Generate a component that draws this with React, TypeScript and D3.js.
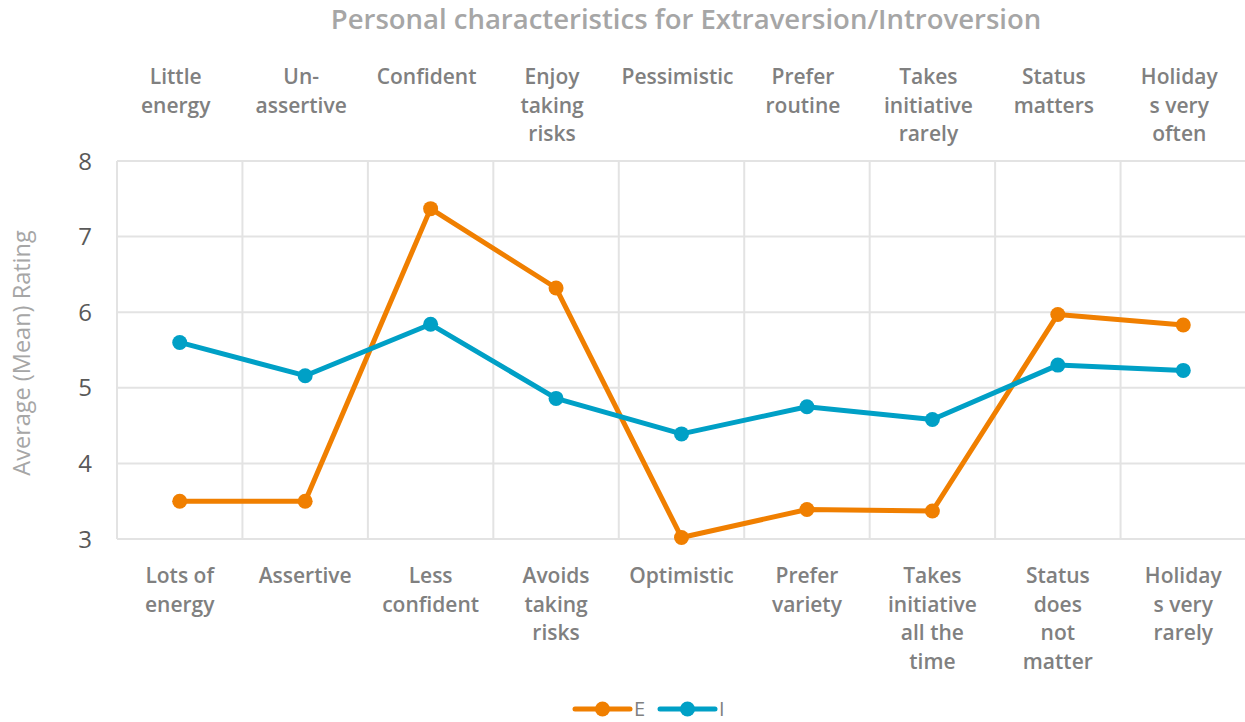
import React from "react";
import * as d3 from "d3";

const topLabels = [
  "Little|energy",
  "Un-|assertive",
  "Confident",
  "Enjoy|taking|risks",
  "Pessimistic",
  "Prefer|routine",
  "Takes|initiative|rarely",
  "Status|matters",
  "Holiday|s very|often",
];
const bottomLabels = [
  "Lots of|energy",
  "Assertive",
  "Less|confident",
  "Avoids|taking|risks",
  "Optimistic",
  "Prefer|variety",
  "Takes|initiative|all the|time",
  "Status|does|not|matter",
  "Holiday|s very|rarely",
];
const seriesE = [3.5, 3.5, 7.37, 6.32, 3.02, 3.39, 3.37, 5.97, 5.83];
const seriesI = [5.6, 5.16, 5.84, 4.86, 4.39, 4.75, 4.58, 5.3, 5.23];
const yTicks = [3, 4, 5, 6, 7, 8];
const seriesNames = ["E", "I"];
const colors = ["#F07F00", "#00A0C6"];

const W = 1245;
const H = 722;
const left = 117;
const right = 1246;
const top = 161;
const bottom = 539;

export default function App() {
  const idx = d3.range(topLabels.length);
  const x = d3.scaleBand<number>().domain(idx).range([left, right]).padding(0);
  const y = d3.scaleLinear().domain([3, 8]).range([bottom, top]);
  const cx = (i: number) => (x(i) as number) + x.bandwidth() / 2;
  const line = d3
    .line<number>()
    .x((_, i) => cx(i))
    .y((d) => y(d));
  const series = [seriesE, seriesI];
  const font = "'Open Sans', sans-serif";

  return (
    <svg
      width={W}
      height={H}
      style={{ position: "absolute", left: 0, top: 0, background: "#fff" }}
    >
      <defs>
        <clipPath id="topclip">
          <rect x={0} y={0} width={W} height={146} />
        </clipPath>
      </defs>
      <text
        x={686}
        y={29}
        textAnchor="middle"
        fontFamily={font}
        fontWeight={600}
        fontSize={27.5}
        fill="#a6a6a6"
      >
        Personal characteristics for Extraversion/Introversion
      </text>
      {/* gridlines */}
      {yTicks.map((t) => (
        <line
          key={"h" + t}
          x1={left}
          x2={right}
          y1={y(t)}
          y2={y(t)}
          stroke="#e3e3e3"
          strokeWidth={2}
        />
      ))}
      {d3.range(topLabels.length + 1).map((i) => {
        const xx = i < topLabels.length ? (x(i) as number) : right;
        return (
          <line
            key={"v" + i}
            x1={xx}
            x2={xx}
            y1={top}
            y2={bottom}
            stroke="#e3e3e3"
            strokeWidth={2}
          />
        );
      })}
      {/* y tick labels */}
      {yTicks.map((t) => (
        <text
          key={"t" + t}
          x={85}
          y={y(t) + 8.5}
          textAnchor="middle"
          fontFamily={font}
          fontSize={24}
          fill="#595959"
        >
          {t}
        </text>
      ))}
      <text
        transform={`translate(30,353) rotate(-90)`}
        textAnchor="middle"
        fontFamily={font}
        fontSize={23.5}
        fill="#a6a6a6"
      >
        Average (Mean) Rating
      </text>
      {/* top labels */}
      <g clipPath="url(#topclip)">
        {topLabels.map((lab, i) =>
          lab.split("|").map((ln, j) => (
            <text
              key={"tl" + i + "_" + j}
              x={cx(i) - 4}
              y={84 + j * 28.7}
              textAnchor="middle"
              fontFamily={font}
              fontWeight={600}
              fontSize={21}
              fill="#808080"
            >
              {ln}
            </text>
          ))
        )}
      </g>
      {/* bottom labels */}
      {bottomLabels.map((lab, i) =>
        lab.split("|").map((ln, j) => (
          <text
            key={"bl" + i + "_" + j}
            x={cx(i)}
            y={583 + j * 28.7}
            textAnchor="middle"
            fontFamily={font}
            fontWeight={600}
            fontSize={21}
            fill="#808080"
          >
            {ln}
          </text>
        ))
      )}
      {/* series */}
      {series.map((s, k) => (
        <g key={"s" + k}>
          <path
            d={line(s) || ""}
            fill="none"
            stroke={colors[k]}
            strokeWidth={5}
            strokeLinejoin="round"
          />
          {s.map((v, i) => (
            <circle key={i} cx={cx(i)} cy={y(v)} r={7.5} fill={colors[k]} />
          ))}
        </g>
      ))}
      {/* legend */}
      {seriesNames.map((n, k) => {
        const x0 = 575 + k * 85;
        return (
          <g key={"lg" + k}>
            <line
              x1={x0}
              x2={x0 + 55}
              y1={709}
              y2={709}
              stroke={colors[k]}
              strokeWidth={5}
              strokeLinecap="round"
            />
            <circle cx={x0 + 27.5} cy={709} r={7.5} fill={colors[k]} />
            <text
              x={x0 + 59}
              y={716}
              fontFamily={font}
              fontSize={20}
              fill="#808080"
            >
              {n}
            </text>
          </g>
        );
      })}
    </svg>
  );
}
